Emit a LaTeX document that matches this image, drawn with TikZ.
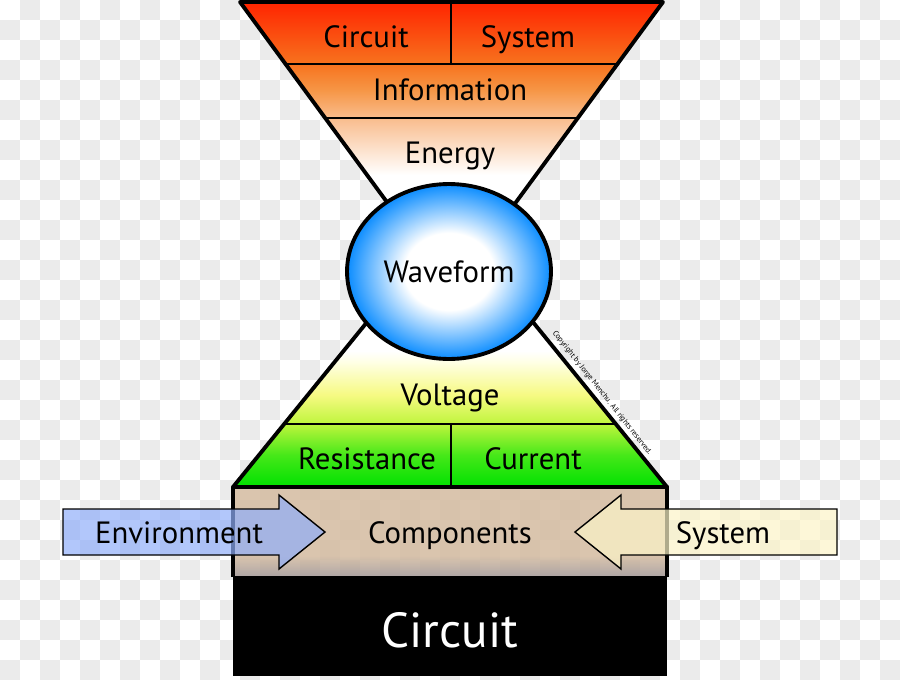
\documentclass[tikz,border=0pt]{standalone}
\usepackage{fontspec}
\setmainfont{PT Sans}
\usetikzlibrary{shapes.geometric}

\definecolor{checkgray}{RGB}{235,235,235}
\definecolor{redtop}{RGB}{255,36,0}
\definecolor{orangemid}{RGB}{247,115,30}
\definecolor{orangelow}{RGB}{246,150,70}
\definecolor{peach}{RGB}{249,188,140}
\definecolor{greenbot}{RGB}{0,225,0}
\definecolor{greenmid}{RGB}{70,232,25}
\definecolor{limeband}{RGB}{190,245,60}
\definecolor{yellowband}{RGB}{246,250,130}
\definecolor{creamband}{RGB}{255,255,230}
\definecolor{waveblue}{RGB}{10,140,255}
\definecolor{comptan}{RGB}{212,187,160}
\definecolor{compgray}{RGB}{160,150,150}
\definecolor{envblue}{RGB}{145,175,250}
\definecolor{sysyellow}{RGB}{252,244,200}

\pgfdeclareverticalshading{topshade}{100bp}{color(0bp)=(white); color(45bp)=(white);
  color(54.9bp)=(peach); color(59.7bp)=(orangelow); color(64.2bp)=(orangemid);
  color(75bp)=(redtop); color(100bp)=(redtop)}
\pgfdeclareverticalshading{botshade}{100bp}{color(0bp)=(greenbot); color(25bp)=(greenbot);
  color(31bp)=(greenmid); color(36.8bp)=(limeband); color(42.2bp)=(yellowband);
  color(48.5bp)=(creamband); color(50.5bp)=(white); color(100bp)=(white)}
\pgfdeclareverticalshading{compshade}{100bp}{color(0bp)=(compgray); color(25bp)=(compgray);
  color(37bp)=(comptan); color(100bp)=(comptan)}
\pgfdeclareradialshading{waveshade}{\pgfpoint{0bp}{0bp}}{color(0bp)=(white);
  color(11bp)=(white); color(25bp)=(waveblue); color(50bp)=(waveblue)}

\tikzset{
  outline/.style={line width=2.2pt, line join=round},
  divider/.style={line width=1.2pt},
  lbl/.style={anchor=base, inner sep=0pt, font=\fontsize{17.5}{20}\selectfont},
  arrowbox/.style={draw=black, line width=0.8pt, line join=miter}
}

\begin{document}
\begin{tikzpicture}[x=0.02cm, y=-0.02cm]
\useasboundingbox (0,0) rectangle (900,680);
% checker background
\foreach \i in {0,...,44}
  \foreach \j in {0,...,33}{
    \pgfmathtruncatemacro{\k}{mod(\i+\j,2)}
    \ifnum\k=1 \fill[checkgray] (\i*20,\j*20) rectangle ++(20,20); \fi
  }

% upper funnel
\coordinate (vl) at (240,2);
\coordinate (vr) at (663,2);
\coordinate (vapex) at (451.5,290);
\shadedraw[outline, shading=topshade] (vl) -- (vr) -- (vapex) -- cycle;
\draw[divider] (285.4,64) -- (617.6,64);
\draw[divider] (325,118) -- (578,118);
\draw[divider] (451,2) -- (451,64);

% lower pyramid
\coordinate (lapex) at (450,220);
\coordinate (bl) at (233,487);
\coordinate (br) at (667,487);
\shadedraw[outline, shading=botshade] (lapex) -- (bl) -- (br) -- cycle;
\draw[divider] (284.4,424) -- (615.6,424);
\draw[divider] (451,424) -- (451,487);

% waveform
\node[ellipse, draw, outline, shading=waveshade, shade, outer sep=0pt,
      minimum width=4.08cm, minimum height=3.5cm,
      font=\fontsize{17.5}{20}\selectfont] (wave) at (449,271.5) {Waveform};

% components and circuit base
\shade[shading=compshade, opacity=.85] (bl) rectangle (667,577);
\fill[black] (233,576) rectangle (667,676);
\draw[outline] (233,577) -- (bl) -- (br) -- (667,577);

% side arrows
\draw[arrowbox, fill=envblue, fill opacity=.7]
  (63,509) -- (279,509) -- (279,495) -- (325,532) -- (279,569) -- (279,555) -- (63,555) -- cycle;
\draw[arrowbox, fill=sysyellow, fill opacity=.7]
  (837,509) -- (621,509) -- (621,495) -- (575,532) -- (621,569) -- (621,555) -- (837,555) -- cycle;

% labels
\node[lbl] (tcircuit) at (366,47) {Circuit};
\node[lbl] (tsystem) at (528,47) {System};
\node[lbl] (info) at (450,100.5) {Information};
\node[lbl] (energy) at (450,163) {Energy};
\node[lbl] (voltage) at (450,405) {Voltage};
\node[lbl] (resist) at (367,469) {Resistance};
\node[lbl] (current) at (533,469) {Current};
\node[lbl] (comp) at (450,543) {Components};
\node[lbl] (env) at (179,543) {Environment};
\node[lbl] (asystem) at (723,543) {System};
\node[lbl, text=white, font=\fontsize{28}{32}\selectfont] (bcircuit) at (450,647) {Circuit};
\node[rotate=-51.7, inner sep=0pt, font=\fontsize{4.4}{5}\selectfont] (copy) at (602,393)
  {Copyright by Jorge Menchu. All rights reserved.};
\end{tikzpicture}
\end{document}
